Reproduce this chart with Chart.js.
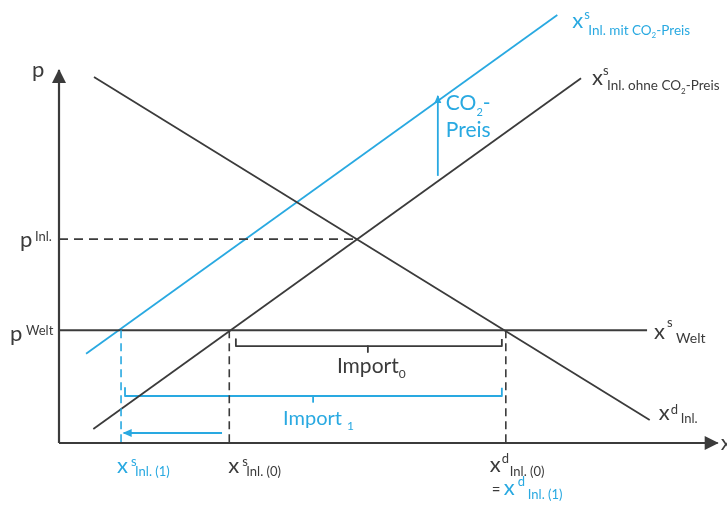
<!DOCTYPE html>
<html lang="de">
<head>
<meta charset="utf-8">
<title>CO2-Preis und Importe</title>
<script src="https://cdn.jsdelivr.net/npm/chart.js@4.4.0/dist/chart.umd.min.js"></script>
<style>
  html, body { margin: 0; padding: 0; background: #fff; }
  #wrap { width: 727px; height: 505px; }
</style>
</head>
<body>
<div id="wrap"><canvas id="chart"></canvas></div>
<script>
// Mengen (q) und Preise (p)
const nachfrageQ = [5.3, 89.5];
const nachfrageP = [98.9, 6.2];
const angebotOhneQ = [5.2, 79.1];
const angebotOhneP = [3.8, 98.6];
const angebotMitQ = [4.1, 75.5];
const angebotMitP = [24.1, 115.7];

const pWelt = 30.5;
const pInl = 55.1;
const qGleichgewicht = 44.8;
const qWeltEnde = 89.1;

const xs1 = 9.4;   // x^s Inl. (1)
const xs0 = 25.8;  // x^s Inl. (0)
const xd0 = 67.7;  // x^d Inl. (0) = x^d Inl. (1)

// Klammern: links, Mitte, rechts / Ende, Klammer, Spitze
const import0Q = [26.8, 46.8, 67.1];
const import0P = [28.1, 26.2, 24.6];
const import1Q = [10.0, 38.5, 67.1];
const import1P = [14.9, 12.7, 11.1];

const pfeilLinksQ = [24.7, 9.8];
const pfeilLinksP = 2.7;
const co2PfeilQ = 57.4;
const co2PfeilP = [72.2, 93.8];

const achseXEnde = 99.8;
const achseYEnde = 100.8;

const dunkel = '#3b3b3b';
const blau = '#29a9e1';

function punkte(qs, ps) {
  return qs.map((q, i) => ({ x: q, y: ps[i] }));
}

function linie(data, farbe, breite, extra) {
  return Object.assign({
    data: data,
    showLine: true,
    borderColor: farbe,
    backgroundColor: farbe,
    borderWidth: breite,
    pointRadius: 0,
    clip: false,
    borderJoinStyle: 'round'
  }, extra || {});
}

const datasets = [
  // Achsen
  linie(punkte([0, 0], [0, achseYEnde]), dunkel, 2.2, { pfeil: [13, 7] }),
  linie(punkte([0, achseXEnde], [0, 0]), dunkel, 2.2, { pfeil: [13, 7] }),
  // gestrichelte Hilfslinien
  linie(punkte([0, qGleichgewicht], [pInl, pInl]), dunkel, 1.8, { borderDash: [9, 6] }),
  linie(punkte([xs0, xs0], [pWelt, 0]), dunkel, 1.6, { borderDash: [8, 5] }),
  linie(punkte([xd0, xd0], [pWelt, 0]), dunkel, 1.6, { borderDash: [8, 5] }),
  linie(punkte([xs1, xs1], [pWelt, 0]), blau, 1.6, { borderDash: [8, 5] }),
  // Weltmarktpreis
  linie(punkte([0, qWeltEnde], [pWelt, pWelt]), dunkel, 2),
  // Kurven
  linie(punkte(nachfrageQ, nachfrageP), dunkel, 1.8),
  linie(punkte(angebotOhneQ, angebotOhneP), dunkel, 1.8),
  linie(punkte(angebotMitQ, angebotMitP), blau, 1.8),
  // Klammern Import0 / Import1
  linie(punkte([import0Q[0], import0Q[0], import0Q[2], import0Q[2]],
               [import0P[0], import0P[1], import0P[1], import0P[0]]), dunkel, 1.8),
  linie(punkte([import0Q[1], import0Q[1]], [import0P[1], import0P[2]]), dunkel, 1.8),
  linie(punkte([import1Q[0], import1Q[0], import1Q[2], import1Q[2]],
               [import1P[0], import1P[1], import1P[1], import1P[0]]), blau, 1.8),
  linie(punkte([import1Q[1], import1Q[1]], [import1P[1], import1P[2]]), blau, 1.8),
  // Pfeile
  linie(punkte(pfeilLinksQ, [pfeilLinksP, pfeilLinksP]), blau, 1.8, { pfeil: [8, 4] }),
  linie(punkte([co2PfeilQ, co2PfeilQ], co2PfeilP), blau, 1.8, { pfeil: [7, 3.5] })
];

// Beschriftungen: Anker in Daten, Versatz in Pixeln
// Teile: [Text, Schriftgröße, x ab Start (null = anschließend), y ab Grundlinie, Farbe]
const beschriftungen = [
  { q: 0, p: achseYEnde, dx: -27, dy: 7, teile: [['p', 22, 0, 0]] },
  { q: 0, p: pInl, dx: -39, dy: 8, teile: [['p', 22, 0, 0], ['Inl.', 13, 15, -6]] },
  { q: 0, p: pWelt, dx: -49, dy: 11, teile: [['p', 22, 0, 0], ['Welt', 13, 16, -6]] },
  { q: achseXEnde, p: 0, dx: 3, dy: 7, teile: [['x', 22, 0, 0]] },
  { q: qWeltEnde, p: pWelt, dx: 7, dy: 9, teile: [['x', 22, 0, 0], ['s', 13, 13, -12], ['Welt', 14, 22, 4]] },
  { q: nachfrageQ[1], p: nachfrageP[1], dx: 9, dy: 0, teile: [['x', 22, 0, 0], ['d', 13, 12, -6], ['Inl.', 13, 22, 3]] },
  { q: angebotOhneQ[1], p: angebotOhneP[1], dx: 11, dy: 7,
    teile: [['x', 22, 0, 0], ['s', 13, 11, -10], ['Inl. ohne CO', 13.5, 15, 5], ['2', 8, null, 9], ['-Preis', 13.5, null, 5]] },
  { q: angebotMitQ[1], p: angebotMitP[1], dx: 15, dy: 13, farbe: blau,
    teile: [['x', 22, 0, 0], ['s', 13, 12, -9], ['Inl. mit CO', 13.5, 16, 7], ['2', 8, null, 10], ['-Preis', 13.5, null, 7]] },
  { q: xs1, p: 0, dx: -4, dy: 30, farbe: blau, teile: [['x', 22, 0, 0], ['s', 13, 14, -7], ['Inl. (1)', 13, 18, 3]] },
  { q: xs0, p: 0, dx: -1, dy: 30, teile: [['x', 22, 0, 0], ['s', 13, 14, -7], ['Inl. (0)', 13, 18, 3]] },
  { q: xd0, p: 0, dx: -16, dy: 29, teile: [['x', 22, 0, 0], ['d', 13, 12, -9], ['Inl. (0)', 13, 20, 4]] },
  { q: xd0, p: 0, dx: -14, dy: 52,
    teile: [['=', 15, 0, 0], ['x', 22, 12, 0, blau], ['d', 13, 26, -9, blau], ['Inl. (1)', 13, 36, 4, blau]] },
  { q: co2PfeilQ, p: co2PfeilP[1], dx: 8, dy: 14, farbe: blau, teile: [['CO', 21, 0, 0], ['2', 11, null, 6], ['-', 21, null, 0]] },
  { q: co2PfeilQ, p: co2PfeilP[1], dx: 8, dy: 41, farbe: blau, teile: [['Preis', 21, 0, 0]] },
  { q: import0Q[1], p: import0P[2], dx: -31, dy: 21, teile: [['Import', 21, 0, 0], ['0', 12, null, 5]] },
  { q: import1Q[1], p: import1P[2], dx: -30, dy: 23, farbe: blau, teile: [['Import', 20, 0, 0], ['1', 12, 64, 5]] }
];

const pfeilspitzen = {
  id: 'pfeilspitzen',
  afterDatasetsDraw(chart) {
    const ctx = chart.ctx;
    chart.data.datasets.forEach((ds, i) => {
      if (!ds.pfeil) return;
      const pts = chart.getDatasetMeta(i).data;
      const a = pts[pts.length - 2], b = pts[pts.length - 1];
      const ang = Math.atan2(b.y - a.y, b.x - a.x);
      const len = ds.pfeil[0], half = ds.pfeil[1];
      ctx.save();
      ctx.translate(b.x, b.y);
      ctx.rotate(ang);
      ctx.fillStyle = ds.borderColor;
      ctx.beginPath();
      ctx.moveTo(1, 0);
      ctx.lineTo(-len, -half);
      ctx.lineTo(-len, half);
      ctx.closePath();
      ctx.fill();
      ctx.restore();
    });
  }
};

const texte = {
  id: 'texte',
  afterDraw(chart) {
    const ctx = chart.ctx;
    const sx = chart.scales.x, sy = chart.scales.y;
    ctx.save();
    ctx.textBaseline = 'alphabetic';
    ctx.textAlign = 'left';
    beschriftungen.forEach(b => {
      const x0 = sx.getPixelForValue(b.q) + b.dx;
      const y0 = sy.getPixelForValue(b.p) + b.dy;
      let weiter = x0;
      b.teile.forEach(t => {
        ctx.font = t[1] + 'px Lato, "Open Sans", sans-serif';
        ctx.fillStyle = t[4] || b.farbe || dunkel;
        const x = t[2] === null ? weiter : x0 + t[2];
        ctx.fillText(t[0], x, y0 + t[3]);
        weiter = x + ctx.measureText(t[0]).width;
      });
    });
    ctx.restore();
  }
};

const chart = new Chart(document.getElementById('chart'), {
  type: 'scatter',
  data: { datasets: datasets },
  options: {
    responsive: true,
    maintainAspectRatio: false,
    animation: false,
    events: [],
    layout: { padding: { left: 59, right: 8, top: 73, bottom: 62 } },
    plugins: { legend: { display: false }, tooltip: { enabled: false } },
    scales: {
      x: { type: 'linear', min: 0, max: 100, display: false },
      y: { type: 'linear', min: 0, max: 100, display: false }
    }
  },
  plugins: [pfeilspitzen, texte]
});

document.fonts.ready.then(() => chart.draw());
</script>
</body>
</html>
